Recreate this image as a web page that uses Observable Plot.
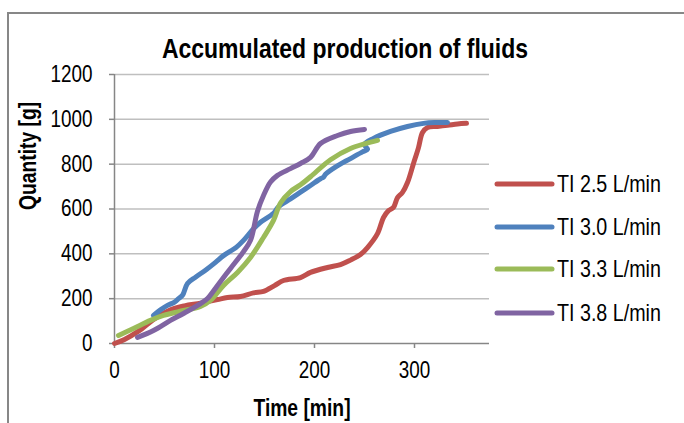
<!DOCTYPE html>
<html>
<head>
<meta charset="utf-8">
<script src="https://cdn.jsdelivr.net/npm/d3@7"></script>
<script src="https://cdn.jsdelivr.net/npm/@observablehq/plot@0.6"></script>
<style>
  html, body { margin: 0; padding: 0; background: #fff; }
  #wrap { position: relative; width: 684px; height: 423px; overflow: hidden; }
  #frame { position: absolute; left: 7px; top: 12px; width: 700px; height: 430px;
           border-left: 2px solid #878787; border-top: 2px solid #878787; }
  #chart { position: absolute; left: 0; top: 0; }
</style>
</head>
<body>
<div id="wrap">
  <div id="frame"></div>
  <div id="chart"></div>
</div>
<script>
// Accumulated production of fluids for four flow rates
const seriesNames = ["TI 2.5 L/min", "TI 3.0 L/min", "TI 3.3 L/min", "TI 3.8 L/min"];
const seriesColors = ["#C0504D", "#4F81BD", "#9BBB59", "#8064A2"];

// TI 2.5 L/min
const time25 = [0, 10, 24, 40, 56, 70, 86, 103, 113, 126, 139, 149, 160, 169, 186, 196, 213, 226, 236, 246, 253, 263, 269, 274, 279, 283, 288, 293, 299, 304, 308, 313, 323, 333, 343, 352];
const qty25  = [0, 18, 55, 110, 150, 168, 180, 196, 205, 210, 226, 232, 258, 281, 294, 317, 339, 352, 372, 397, 428, 490, 562, 593, 607, 651, 674, 718, 803, 874, 941, 964, 968, 973, 979, 982];

// TI 3.0 L/min
const time30 = [39, 46, 53, 60, 64, 68, 73, 81, 91, 101, 109, 122, 129, 139, 146, 159, 164, 176, 186, 196, 206, 209, 211, 222, 236, 248, 253, 250, 259, 276, 293, 309, 320, 333];
const qty30  = [125, 150, 170, 185, 200, 215, 268, 296, 327, 362, 392, 430, 460, 512, 541, 581, 610, 645, 675, 705, 735, 742, 755, 790, 825, 855, 866, 888, 915, 946, 968, 982, 986, 986];

// TI 3.3 L/min
const time33 = [4, 19, 36, 49, 69, 86, 96, 109, 123, 136, 149, 159, 166, 176, 186, 196, 216, 236, 251, 263];
const qty33  = [36, 67, 103, 125, 147, 165, 192, 259, 317, 384, 473, 549, 627, 678, 708, 744, 820, 870, 892, 906];

// TI 3.8 L/min
const time38 = [23, 39, 56, 69, 86, 93, 103, 116, 129, 136, 143, 149, 156, 163, 176, 186, 196, 206, 223, 236, 250];
const qty38  = [27, 58, 103, 134, 178, 201, 259, 335, 410, 460, 590, 660, 720, 750, 780, 803, 830, 892, 928, 946, 955];

const xTicks = [0, 100, 200, 300];
const yTicks = [0, 200, 400, 600, 800, 1000, 1200];

const table = [
  [time25, qty25], [time30, qty30], [time33, qty33], [time38, qty38]
].flatMap(([t, q], i) => t.map((x, j) => ({series: seriesNames[i], time: x, qty: q[j]})));

const FONT = '"Liberation Sans", Arial, sans-serif';
const NARROW = 0.82; // horizontal squeeze giving a narrow face

const chart = Plot.plot({
  width: 684,
  height: 423,
  marginLeft: 114,
  marginRight: 195,
  marginTop: 74,
  marginBottom: 80,
  style: {fontFamily: FONT, fontSize: "23px", color: "#000", background: "transparent", overflow: "visible"},
  x: {domain: [0, 375], ticks: xTicks, label: null},
  y: {domain: [0, 1200], ticks: yTicks, label: null},
  color: {domain: seriesNames, range: seriesColors},
  marks: [
    Plot.gridY(yTicks.filter(d => d > 0), {stroke: "#bfbfbf", strokeOpacity: 1, strokeWidth: 1.5}),
    Plot.ruleX([0], {stroke: "#868686", strokeWidth: 1.5}),
    Plot.ruleY([0], {stroke: "#868686", strokeWidth: 1.5}),
    Plot.axisY(yTicks, {tickSize: 5, tickPadding: 17, stroke: "#868686", strokeWidth: 1.5, fontSize: 23,
      tickFormat: d => String(d), label: null}),
    Plot.axisX(xTicks, {tickSize: 5, tickPadding: 13, stroke: "#868686", strokeWidth: 1.5, fontSize: 23,
      tickFormat: d => String(d), label: null}),
    Plot.line(table, {x: "time", y: "qty", z: "series", stroke: "series",
      strokeWidth: 5, strokeLinecap: "round", strokeLinejoin: "round", curve: "catmull-rom"}),
    Plot.text(["Accumulated production of fluids"], {text: d => d, frameAnchor: "top", dx: 43, dy: -25,
      fontSize: 28, fontWeight: "bold", lineAnchor: "middle"}),
    Plot.text(["Quantity [g]"], {text: d => d, frameAnchor: "left", dx: -86, dy: 1, rotate: -90,
      fontSize: 23.5, fontWeight: "bold", lineAnchor: "middle"}),
    Plot.text(["Time [min]"], {text: d => d, frameAnchor: "bottom", dy: 65,
      fontSize: 23.5, fontWeight: "bold", lineAnchor: "middle"})
  ]
});

document.getElementById("chart").appendChild(chart);

// Legend to the right of the plot area
const svg = d3.select(chart);
const legendY = [184, 227, 269, 313];
const legend = svg.append("g")
  .attr("font-family", FONT).attr("font-size", 24).attr("text-anchor", "start");
seriesNames.forEach((name, i) => {
  legend.append("line")
    .attr("x1", 497).attr("x2", 552).attr("y1", legendY[i]).attr("y2", legendY[i])
    .attr("stroke", seriesColors[i]).attr("stroke-width", 5).attr("stroke-linecap", "round");
  legend.append("text")
    .attr("x", 557).attr("y", legendY[i]).attr("dy", "0.35em")
    .attr("fill", "#000").text(name);
});

// Condense every label horizontally
svg.selectAll("text").each(function() {
  const len = this.getComputedTextLength();
  if (len > 0) {
    this.setAttribute("textLength", (len * NARROW).toFixed(1));
    this.setAttribute("lengthAdjust", "spacingAndGlyphs");
  }
});
</script>
</body>
</html>
